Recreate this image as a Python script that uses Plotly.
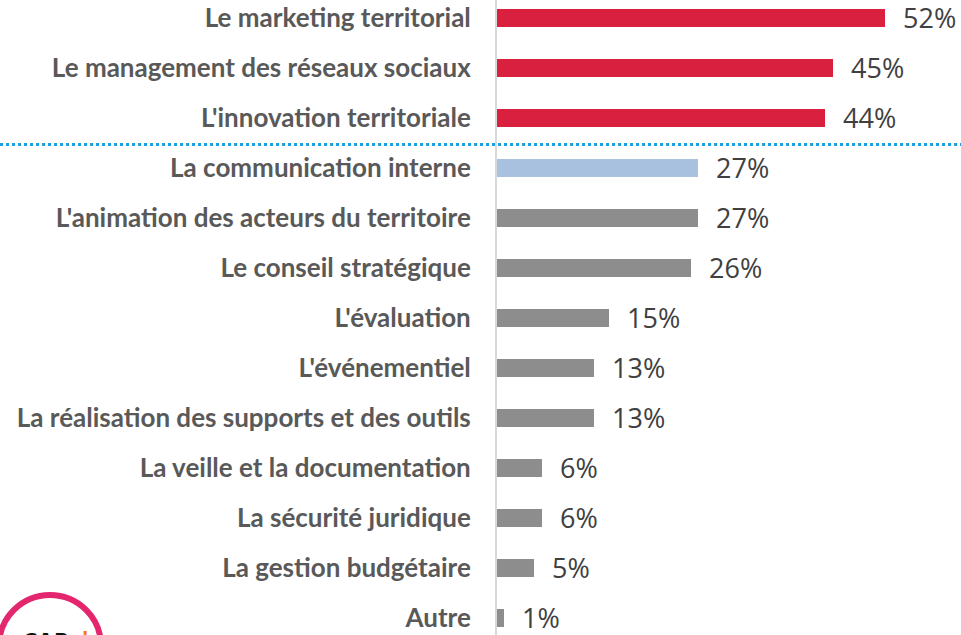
import plotly.graph_objects as go

categories = [
    "Le marketing territorial",
    "Le management des réseaux sociaux",
    "L'innovation territoriale",
    "La communication interne",
    "L'animation des acteurs du territoire",
    "Le conseil stratégique",
    "L'évaluation",
    "L'événementiel",
    "La réalisation des supports et des outils",
    "La veille et la documentation",
    "La sécurité juridique",
    "La gestion budgétaire",
    "Autre",
]
values = [52, 45, 44, 27, 27, 26, 15, 13, 13, 6, 6, 5, 1]
groups = ["top", "top", "top", "interne"] + ["autre"] * 9

RED = "#D9203E"
BLUE = "#A7C1DF"
GREY = "#8D8D8D"
group_colors = {"top": RED, "interne": BLUE, "autre": GREY}

W, H = 961, 635
LEFT = 497
px_per_pct = 7.46
row_px = 50
first_row = 18   # centre of first bar, in pixels

ypos = list(range(len(categories)))

fig = go.Figure()
fig.add_trace(go.Bar(
    x=values,
    y=ypos,
    orientation="h",
    width=0.36,
    marker=dict(color=[group_colors[g] for g in groups], line=dict(width=0)),
    hoverinfo="skip",
))

# value labels to the right of each bar
for v, y in zip(values, ypos):
    fig.add_annotation(
        x=v, y=y, xref="x", yref="y",
        text=f"{v}%", showarrow=False,
        xanchor="left", yanchor="middle", xshift=16, yshift=1,
        font=dict(family="Open Sans", size=27, color="#404040"),
    )

# dotted separator under the top 3
fig.add_shape(
    type="line", xref="paper", yref="y",
    x0=-LEFT / (W - LEFT), x1=1, y0=2.53, y1=2.53,
    line=dict(color="#1E9FE0", width=3, dash="dot"),
)

# CAP'Com-like logo peeking from bottom-left (pixel coords)
pw = W - LEFT
def xp(px):
    return (px - LEFT) / pw
def yp(py):
    return 1 - py / H

fig.add_shape(
    type="circle", xref="paper", yref="paper",
    x0=xp(-1), x1=xp(101), y0=yp(697), y1=yp(595),
    line=dict(color="#E4266F", width=6),
)
fig.add_annotation(
    x=xp(20), y=yp(622), xref="paper", yref="paper",
    text="<b>CAP</b>", showarrow=False, xanchor="left", yanchor="top",
    font=dict(family="Open Sans", size=24, color="#111111"),
)
fig.add_annotation(
    x=xp(80), y=yp(620), xref="paper", yref="paper",
    text="<b>'</b>", showarrow=False, xanchor="left", yanchor="top",
    font=dict(family="Open Sans", size=24, color="#F07D1A"),
)

top_offset = first_row / row_px
fig.update_layout(
    width=W, height=H,
    margin=dict(l=LEFT, r=0, t=0, b=0, autoexpand=False),
    plot_bgcolor="white", paper_bgcolor="white",
    showlegend=False,
    bargap=0,
    xaxis=dict(
        range=[0, (W - LEFT) / px_per_pct],
        showgrid=False, zeroline=False, showticklabels=False, showline=False,
        automargin=False,
    ),
    yaxis=dict(
        range=[H / row_px - top_offset, -top_offset],
        tickvals=ypos, ticktext=categories,
        showgrid=False, zeroline=False, automargin=False,
        showline=True, linecolor="#D9D9D9", linewidth=2,
        ticks="", ticklabelstandoff=19, ticklabeloverflow="allow",
        tickfont=dict(family="Lato", size=26, color="#595959", weight="bold"),
    ),
)

# drop the default 8px page margin so the figure sits at the window's corner
fig.write_html(
    "out.html",
    config={"displayModeBar": False},
    post_script="document.body.style.margin='0';",
)
